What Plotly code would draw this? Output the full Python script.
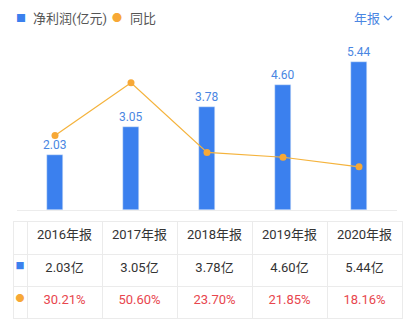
import plotly.graph_objects as go

years = ["2016年报", "2017年报", "2018年报", "2019年报", "2020年报"]
profit = [2.03, 3.05, 3.78, 4.60, 5.44]
yoy = [30.21, 50.60, 23.70, 21.85, 18.16]

W, H = 416, 322
BLUE = "#3b80ee"
LABEL_BLUE = "#4a86e2"
ORANGE = "#f5b33c"
DOT = "#f7a836"
RED = "#e8464e"
FONT = "Roboto, Noto Sans CJK SC, sans-serif"

def py(px):
    return 1 - px / H

def pxx(px):
    return px / W

fig = go.Figure()
fig.add_trace(go.Bar(
    x=years, y=profit, marker_color=BLUE, width=0.21,
    text=[f"{v:.2f}" for v in profit], textposition="outside",
    constraintext="none",
    textfont=dict(color=LABEL_BLUE, size=12, family=FONT),
    cliponaxis=False, showlegend=False, hoverinfo="skip",
))
fig.add_trace(go.Scatter(
    x=years, y=yoy, yaxis="y2", mode="lines+markers",
    line=dict(color=ORANGE, width=1.2),
    marker=dict(color=DOT, size=7),
    showlegend=False, hoverinfo="skip",
))

fig.add_trace(go.Table(
    domain=dict(x=[pxx(13), pxx(402)], y=[py(319), py(221)]),
    columnwidth=[14] + [75] * 5,
    header=dict(
        values=[""] + years,
        height=33,
        align="center",
        fill_color="white",
        line_color="#ebebeb",
        font=dict(size=13, color="#333333", family=FONT),
    ),
    cells=dict(
        values=[["■", "●"]] + [[f"{p:.2f}亿", f"{r:.2f}%"] for p, r in zip(profit, yoy)],
        height=32,
        align="center",
        fill_color="white",
        line_color="#ebebeb",
        font=dict(
            size=[9] + [13] * 5,
            color=[[BLUE, DOT]] + [["#333333", RED]] * 5,
            family=FONT,
        ),
    ),
))

fig.update_layout(
    width=W, height=H, margin=dict(l=0, r=0, t=0, b=0),
    paper_bgcolor="white", plot_bgcolor="white",
    bargap=0,
    xaxis=dict(domain=[pxx(17), pxx(397)], type="category", range=[-0.5, 4.5],
               showticklabels=False, showline=True, linecolor="#ececec",
               showgrid=False, zeroline=False, fixedrange=True),
    yaxis=dict(domain=[py(210), py(47)], range=[0, 6], visible=False,
               showgrid=False, zeroline=False),
    yaxis2=dict(overlaying="y", range=[1.5, 64.4], visible=False,
                showgrid=False, zeroline=False),
    showlegend=False,
)

ann = [
    dict(x=pxx(20.5), y=py(18), text="■", font=dict(color=BLUE, size=10, family=FONT)),
    dict(x=pxx(31), y=py(18), text="净利润(亿元)", xanchor="left",
         font=dict(color="#555555", size=13, family=FONT)),
    dict(x=pxx(117), y=py(18), text="●", font=dict(color=DOT, size=10, family=FONT)),
    dict(x=pxx(128), y=py(18), text="同比", xanchor="left",
         font=dict(color="#555555", size=13, family=FONT)),
    dict(x=pxx(352), y=py(18), text="年报", xanchor="left",
         font=dict(color="#4a86e2", size=13, family=FONT)),
]
for a in ann:
    a.setdefault("xanchor", "center")
    a.update(xref="paper", yref="paper", yanchor="middle", showarrow=False)
fig.update_layout(annotations=ann)

fig.add_shape(type="path", xref="paper", yref="paper",
              path=f"M {pxx(384)} {py(16)} L {pxx(388)} {py(20)} L {pxx(392)} {py(16)}",
              line=dict(color="#4a86e2", width=1.2))

fig.write_html("out.html")
